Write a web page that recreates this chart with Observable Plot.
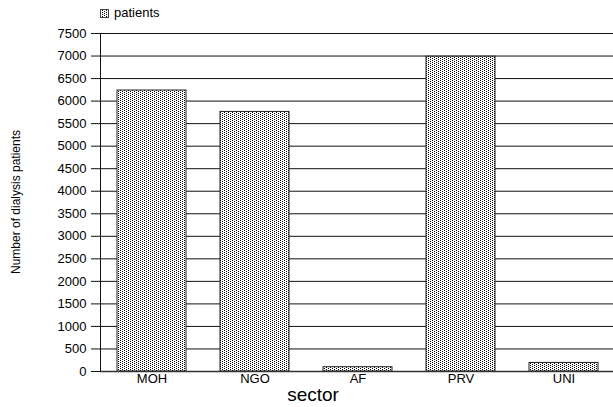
<!DOCTYPE html>
<html><head><meta charset="utf-8">
<script src="https://cdn.jsdelivr.net/npm/d3@7"></script>
<script src="https://cdn.jsdelivr.net/npm/@observablehq/plot@0.6"></script>
<style>
body{margin:0;background:#fff;font-family:"Liberation Sans",Arial,sans-serif;}
#legend{position:relative;height:24px;width:613px;}
#legend svg{position:absolute;left:100px;top:9px;}
#legend span{position:absolute;left:114px;top:5px;font-size:13px;line-height:15px;color:#000;}
</style></head><body>
<div id="legend"></div><div id="chart"></div>
<script>
const sectors = ["MOH", "NGO", "AF", "PRV", "UNI"];
const patients = [6235, 5760, 95, 6985, 190];
const yTicks = [0, 500, 1000, 1500, 2000, 2500, 3000, 3500, 4000, 4500, 5000, 5500, 6000, 6500, 7000, 7500];
const seriesName = "patients";
const xTitle = "sector";
const yTitle = "Number of dialysis patients";

const data = sectors.map((s, i) => ({sector: s, value: patients[i]}));

const patternDef = `<pattern id="dots" width="4" height="2" patternUnits="userSpaceOnUse">
  <rect width="4" height="2" fill="#fff"/>
  <rect x="0" y="0" width="1" height="1" fill="#000"/>
  <rect x="2" y="1" width="1" height="1" fill="#000"/>
</pattern>`;

// legend
const leg = document.getElementById("legend");
leg.innerHTML = `<svg width="9" height="9"><defs>${patternDef.replace('id="dots"','id="dotsL"')}</defs>
<rect x="0.5" y="0.5" width="8" height="8" fill="url(#dotsL)" stroke="#444"/></svg><span>${seriesName}</span>`;

const W = 613, H = 383;
const chart = Plot.plot({
  width: W, height: H,
  marginLeft: 100, marginRight: 0, marginTop: 9, marginBottom: 36,
  style: {fontFamily: "'Liberation Sans', Arial, sans-serif", fontSize: "13px", background: "#fff", color: "#000", overflow: "visible"},
  x: {domain: sectors, range: [100, 616], paddingInner: 0.33, paddingOuter: 0.165},
  y: {domain: [0, 7500], ticks: yTicks},
  marks: [
    Plot.gridY(yTicks, {stroke: "#111", strokeOpacity: 1, strokeWidth: 1}),
    Plot.axisY(yTicks, {tickSize: 9, tickPadding: 5, label: null, fontSize: 13, stroke: "#111", tickFormat: d => String(d)}),
    Plot.axisX({tickSize: 0, tickPadding: 2, label: null, fontSize: 13}),
    Plot.barY(data, {x: "sector", y: "value", fill: "#ccc", stroke: "#222", strokeWidth: 1, className: "bars"}),
    Plot.ruleY([0], {stroke: "#333", strokeWidth: 1.5})
  ]
});

const svg = d3.select(chart);
svg.insert("defs", ":first-child").html(patternDef);
svg.selectAll(".bars rect").attr("fill", "url(#dots)");
// y axis line
svg.append("line").attr("x1", 100.5).attr("x2", 100.5).attr("y1", 9).attr("y2", 347).attr("stroke", "#111");
// titles
svg.append("text").attr("x", 313).attr("y", 377).attr("text-anchor", "middle")
  .attr("font-size", 19).attr("fill", "#000").text(xTitle);
svg.append("text").attr("transform", "translate(20,178) rotate(-90)").attr("text-anchor", "middle")
  .attr("font-size", 12).attr("fill", "#000").text(yTitle);

document.getElementById("chart").appendChild(chart);
</script>
</body></html>
